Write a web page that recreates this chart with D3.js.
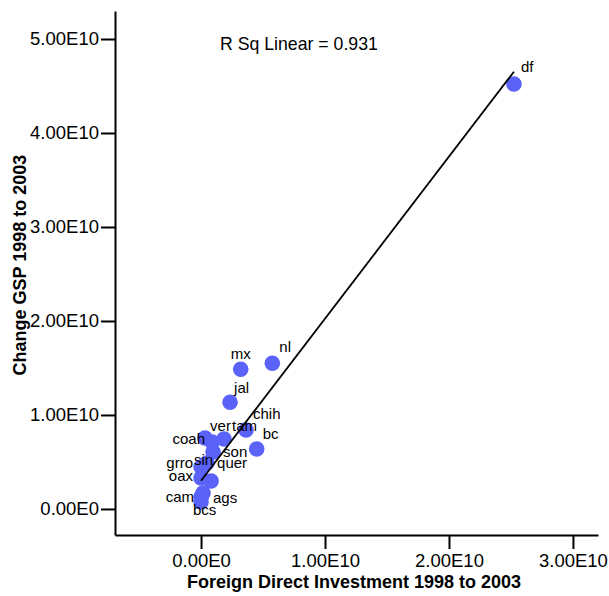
<!DOCTYPE html>
<html>
<head>
<meta charset="utf-8">
<script src="https://cdn.jsdelivr.net/npm/d3@7"></script>
<style>
  body { margin: 0; background: #fff; }
  text { font-family: Arial, "Liberation Sans", sans-serif; fill: #000; }
</style>
</head>
<body>
<div id="chart"></div>
<script>
// Data (values in units of 1E10)
const states = ["df", "nl", "mx", "jal", "chih", "bc", "coah", "ver", "tam", "son",
    "sin", "grro", "quer", "oax", "ags", "cam", "bcs"];
const fdi = [2.524, 0.575, 0.320, 0.234, 0.363, 0.449, 0.032, 0.089, 0.185, 0.097,
    0.048, 0.000, 0.081, 0.000, 0.016, 0.000, 0.000];
const gsp = [4.521, 1.550, 1.486, 1.135, 0.840, 0.638, 0.755, 0.713, 0.745, 0.606,
    0.489, 0.447, 0.298, 0.330, 0.170, 0.128, 0.074];
const xTicks = [0, 1, 2, 3];
const yTicks = [0, 1, 2, 3, 4, 5];
const fitIntercept = 0.301;
const fitSlope = 1.724;
const rSquared = 0.931;

// Label placement (anchor, dx, dy) around each marker
const labelPos = {
    df: ["start", 7, -12], nl: ["start", 7, -11], mx: ["middle", 0, -10],
    jal: ["start", 4, -9], chih: ["start", 7, -11], bc: ["start", 6, -10],
    coah: ["end", 0, 6], ver: ["start", -2, -11], tam: ["start", 8, -8],
    son: ["start", 10, 5], sin: ["start", -13, 2], grro: ["end", -8, 1],
    quer: ["start", 6, -13], oax: ["end", -8, 3], ags: ["start", 10, 10],
    cam: ["end", -7, 5], bcs: ["start", -8, 13]
};

const points = states.map((s, i) => ({ name: s, x: fdi[i], y: gsp[i] }));

// Dimensions
const width = 609, height = 596;
const plot = { left: 115, right: 598, top: 11, bottom: 535 };

const svg = d3.select("#chart")
    .append("svg")
    .attr("width", width)
    .attr("height", height);

// Scales
const x = d3.scaleLinear()
    .domain([-0.694, 3.202])
    .range([plot.left, plot.right]);

const y = d3.scaleLinear()
    .domain([-0.277, 5.298])
    .range([plot.bottom, plot.top]);

const fmt = d => d === 0 ? "0.00E0" : d.toFixed(2) + "E10";

// Axes
const xAxis = svg.append("g")
    .attr("transform", `translate(0, ${plot.bottom})`)
    .call(d3.axisBottom(x).tickValues(xTicks).tickFormat(fmt).tickSize(14).tickSizeOuter(0));

const yAxis = svg.append("g")
    .attr("transform", `translate(${plot.left}, 0)`)
    .call(d3.axisLeft(y).tickValues(yTicks).tickFormat(fmt).tickSize(14).tickSizeOuter(0));

[xAxis, yAxis].forEach(ax => {
    ax.select(".domain").attr("stroke", "#000").attr("stroke-width", 2);
    ax.selectAll(".tick line").attr("stroke", "#000").attr("stroke-width", 2);
    ax.selectAll(".tick text")
        .style("font-size", "18.5px")
        .style("font-family", "Arial, 'Liberation Sans', sans-serif")
        .attr("fill", "#000");
});
xAxis.selectAll(".tick text").attr("y", 19);
yAxis.selectAll(".tick text").attr("x", -16);

// Axis titles
svg.append("text")
    .attr("x", 354)
    .attr("y", 588)
    .attr("text-anchor", "middle")
    .style("font-size", "18px")
    .style("font-weight", "bold")
    .text("Foreign Direct Investment 1998 to 2003");

svg.append("text")
    .attr("transform", "translate(26, 265) rotate(-90)")
    .attr("text-anchor", "middle")
    .style("font-size", "18px")
    .style("font-weight", "bold")
    .text("Change GSP 1998 to 2003");

// R squared annotation
svg.append("text")
    .attr("x", 220)
    .attr("y", 50)
    .style("font-size", "17.7px")
    .text(`R Sq Linear = ${rSquared}`);

// Markers
svg.append("g")
    .selectAll("circle")
    .data(points)
    .enter()
    .append("circle")
    .attr("cx", d => x(d.x))
    .attr("cy", d => y(d.y))
    .attr("r", 7.8)
    .attr("fill", "#5a62f8");

// Fit line
const xExt = d3.extent(fdi);
svg.append("line")
    .attr("x1", x(xExt[0]))
    .attr("y1", y(fitIntercept + fitSlope * xExt[0]))
    .attr("x2", x(xExt[1]))
    .attr("y2", y(fitIntercept + fitSlope * xExt[1]))
    .attr("stroke", "#000")
    .attr("stroke-width", 1.8);

// Point labels
svg.append("g")
    .selectAll("text")
    .data(points)
    .enter()
    .append("text")
    .attr("x", d => x(d.x) + labelPos[d.name][1])
    .attr("y", d => y(d.y) + labelPos[d.name][2])
    .attr("text-anchor", d => labelPos[d.name][0])
    .style("font-size", "15px")
    .text(d => d.name);
</script>
</body>
</html>
